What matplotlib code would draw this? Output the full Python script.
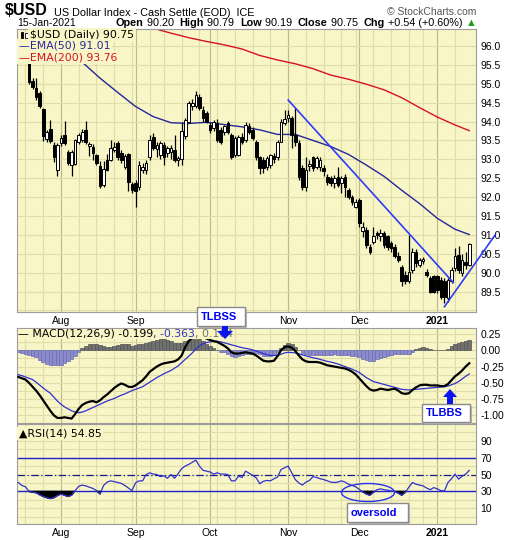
import numpy as np
import pandas as pd
import matplotlib
matplotlib.use("Agg")
import matplotlib.pyplot as plt
from matplotlib.patches import Rectangle, Ellipse, Polygon

plt.rcParams['font.family'] = ['Liberation Sans', 'DejaVu Sans']
plt.rcParams['axes.unicode_minus'] = False

# ---------------- data ----------------
holidays = ['2020-09-07', '2020-11-26', '2020-12-25', '2021-01-01']
sessions = pd.bdate_range('2020-07-16', '2021-01-15')
sessions = sessions[~sessions.isin(pd.to_datetime(holidays))]
lead = 3  # sessions shown only by the indicator panels

bar_open = [95.54, 95.08, 94.90, 94.75, 94.33, 93.55, 93.80, 93.38, 92.72, 93.43,
            93.65, 93.20, 92.85, 92.88, 93.47, 93.50, 93.78, 93.35, 93.34, 93.12,
            92.83, 92.32, 92.98, 92.98, 93.25, 93.43, 93.16, 92.80, 93.13, 92.35,
            92.37, 92.28, 92.72, 92.72, 93.07, 93.60, 93.27, 93.12, 93.38, 93.16,
            93.20, 93.25, 92.98, 93.00, 93.62, 94.00, 94.40, 94.40, 94.66, 94.31,
            94.22, 93.91, 93.82, 93.95, 93.78, 93.73, 93.95, 93.65, 93.12, 93.12,
            93.60, 93.51, 93.87, 93.78, 93.45, 93.07, 92.98, 92.81, 92.85, 93.10,
            93.05, 93.47, 93.95, 94.09, 94.09, 93.65, 93.43, 92.76, 92.28, 92.82,
            93.05, 92.81, 92.80, 92.76, 92.54, 92.50, 92.37, 92.54, 92.37, 92.54,
            92.19, 92.01, 91.75, 91.93, 91.10, 91.13, 90.69, 90.80, 91.04, 90.96,
            91.04, 90.96, 90.78, 90.69, 90.43, 90.16, 89.95, 89.77, 90.07, 90.56,
            90.20, 90.30, 90.03, 89.85, 89.90, 89.90, 89.81, 89.77, 89.32, 89.77,
            90.12, 90.47, 89.99, 90.28, 90.20]
bar_high = [95.60, 95.15, 95.15, 94.80, 94.36, 93.78, 94.04, 93.45, 93.42, 93.65,
            94.02, 93.25, 93.25, 93.55, 93.70, 93.80, 94.02, 93.45, 93.40, 93.15,
            92.95, 92.95, 93.15, 93.51, 93.45, 93.48, 93.25, 93.15, 93.18, 92.40,
            92.45, 92.95, 92.90, 92.98, 93.65, 93.70, 93.45, 93.48, 93.45, 93.35,
            93.38, 93.65, 93.10, 93.98, 94.10, 94.55, 94.60, 94.80, 94.74, 94.40,
            94.28, 93.98, 94.05, 94.08, 93.85, 93.92, 94.02, 93.70, 93.62, 93.65,
            93.70, 93.98, 93.95, 93.85, 93.50, 93.10, 93.07, 93.08, 93.15, 93.18,
            93.52, 94.08, 94.30, 94.30, 94.15, 94.35, 93.50, 92.85, 93.07, 92.98,
            93.10, 93.10, 93.05, 92.85, 92.60, 92.55, 92.58, 92.80, 92.55, 92.60,
            92.25, 92.05, 91.95, 91.98, 91.35, 91.22, 90.75, 91.22, 91.10, 91.15,
            91.10, 91.00, 90.85, 90.75, 90.55, 90.20, 90.05, 91.00, 90.65, 90.62,
            90.40, 90.42, 90.10, 89.90, 89.95, 89.95, 89.88, 89.85, 89.85, 90.15,
            90.65, 90.72, 90.50, 90.55, 90.79]
bar_low = [95.00, 94.85, 94.58, 94.35, 93.48, 93.45, 93.42, 92.94, 92.55, 93.35,
           93.38, 92.85, 92.55, 92.85, 93.40, 93.45, 93.40, 93.10, 92.98, 92.85,
           92.25, 92.28, 92.68, 92.95, 93.20, 92.98, 92.90, 92.75, 92.15, 92.10,
           91.75, 92.20, 92.65, 92.60, 92.98, 93.25, 93.05, 93.02, 92.85, 93.05,
           93.00, 92.92, 92.83, 92.85, 93.55, 93.95, 94.30, 94.35, 94.30, 94.00,
           93.95, 93.70, 93.75, 93.45, 93.40, 93.65, 93.68, 93.00, 93.05, 93.08,
           93.40, 93.45, 93.68, 93.50, 92.98, 92.60, 92.65, 92.72, 92.78, 92.90,
           92.98, 93.45, 93.90, 94.00, 93.30, 93.35, 92.45, 92.20, 92.15, 92.70,
           92.70, 92.75, 92.70, 92.55, 92.33, 92.30, 92.25, 92.28, 92.10, 92.00,
           91.95, 91.80, 91.70, 91.20, 90.95, 90.65, 90.50, 90.75, 90.90, 90.85,
           90.65, 90.60, 90.55, 90.38, 90.28, 89.65, 89.70, 89.72, 90.00, 90.15,
           90.15, 90.22, 89.88, 89.45, 89.45, 89.45, 89.30, 89.20, 89.22, 89.72,
           90.05, 90.00, 89.90, 90.10, 90.19]
bar_close = [95.06, 94.92, 94.66, 94.40, 93.62, 93.72, 93.48, 93.05, 93.38, 93.56,
             93.43, 92.90, 93.20, 93.51, 93.65, 93.73, 93.47, 93.40, 93.16, 92.90,
             92.30, 92.75, 92.72, 93.29, 93.34, 93.07, 92.98, 93.10, 92.41, 92.20,
             92.15, 92.85, 92.81, 92.90, 93.51, 93.30, 93.38, 93.43, 93.07, 93.29,
             93.30, 92.98, 93.03, 93.74, 94.04, 94.48, 94.48, 94.70, 94.35, 94.09,
             94.00, 93.78, 94.00, 93.51, 93.47, 93.87, 93.73, 93.07, 93.56, 93.58,
             93.47, 93.91, 93.73, 93.56, 93.07, 92.76, 92.76, 93.03, 93.12, 93.00,
             93.47, 94.00, 94.08, 94.17, 93.65, 93.47, 92.54, 92.26, 92.72, 92.88,
             92.76, 93.03, 92.98, 92.68, 92.41, 92.37, 92.50, 92.33, 92.50, 92.28,
             92.01, 91.88, 91.88, 91.31, 91.20, 90.74, 90.56, 90.96, 90.99, 91.04,
             90.74, 90.69, 90.65, 90.43, 90.34, 89.77, 89.77, 90.03, 90.56, 90.25,
             90.34, 90.36, 89.95, 89.50, 89.50, 89.55, 89.37, 89.37, 89.81, 90.07,
             90.43, 90.07, 90.34, 90.21, 90.75]

ema50_bar = [-3, 0, 5, 10, 15, 20, 25, 30, 35, 40, 45, 50, 55, 60, 65, 70, 75,
             80, 85, 90, 95, 100, 105, 110, 115, 120, 124]
ema50_val = [97.20, 96.85, 96.35, 95.95, 95.57, 95.15, 94.77, 94.40, 94.13, 93.97,
             93.95, 93.98, 93.92, 93.86, 93.78, 93.66, 93.66, 93.50, 93.34, 93.13,
             92.85, 92.55, 92.18, 91.83, 91.44, 91.15, 91.01]
ema200_bar = [25, 30, 35, 40, 45, 50, 55, 60, 65, 70, 75, 80, 85, 90, 95, 100,
              105, 110, 115, 120, 124]
ema200_val = [96.78, 96.63, 96.47, 96.34, 96.22, 96.12, 96.03, 95.92, 95.75, 95.63,
              95.53, 95.40, 95.23, 95.12, 94.99, 94.84, 94.63, 94.37, 94.12, 93.91,
              93.76]

trend_down_bar = [73, 119.5]
trend_down_val = [94.57, 89.74]
trend_up_bar = [117, 131.3]
trend_up_val = [89.10, 91.00]

macd_line = [-0.41, -0.43, -0.45,
             -0.50, -0.56, -0.62, -0.69, -0.77, -0.85, -0.93, -1.00, -1.04, -1.04,
             -1.03, -1.04, -1.05, -0.98, -0.90, -0.84, -0.81, -0.79, -0.78, -0.80,
             -0.77, -0.72, -0.68, -0.63, -0.58, -0.54, -0.51, -0.53, -0.56, -0.565,
             -0.54, -0.50, -0.46, -0.40, -0.33, -0.29, -0.25, -0.22, -0.20, -0.19,
             -0.18, -0.17, -0.14, -0.08, 0.05, 0.14, 0.20, 0.23, 0.23, 0.21,
             0.18, 0.16, 0.14, 0.13, 0.10, 0.07, 0.03, -0.03, -0.05, -0.05,
             -0.04, -0.03, -0.04, -0.05, -0.08, -0.12, -0.16, -0.17, -0.17, -0.16,
             -0.09, 0.00, 0.05, 0.06, 0.04, -0.01, -0.08, -0.14, -0.17, -0.18,
             -0.18, -0.18, -0.19, -0.21, -0.23, -0.24, -0.25, -0.26, -0.27, -0.28,
             -0.30, -0.33, -0.37, -0.43, -0.49, -0.55, -0.60, -0.62, -0.61, -0.59,
             -0.60, -0.61, -0.60, -0.59, -0.62, -0.66, -0.67, -0.66, -0.61, -0.57,
             -0.54, -0.53, -0.53, -0.54, -0.54, -0.54, -0.55, -0.55, -0.52, -0.46,
             -0.40, -0.36, -0.31, -0.25, -0.199]
macd_signal = [-0.375, -0.39, -0.41,
               -0.43, -0.45, -0.49, -0.535, -0.58, -0.62, -0.66, -0.72, -0.78, -0.83,
               -0.87, -0.90, -0.93, -0.95, -0.96, -0.95, -0.93, -0.905, -0.88, -0.855,
               -0.83, -0.805, -0.78, -0.76, -0.74, -0.715, -0.69, -0.67, -0.645, -0.62,
               -0.60, -0.58, -0.56, -0.525, -0.49, -0.455, -0.42, -0.39, -0.36, -0.335,
               -0.31, -0.275, -0.24, -0.19, -0.14, -0.09, -0.04, 0.02, 0.07, 0.10,
               0.12, 0.13, 0.14, 0.135, 0.13, 0.115, 0.10, 0.085, 0.07, 0.055,
               0.04, 0.03, 0.02, 0.005, -0.01, -0.03, -0.05, -0.065, -0.08, -0.08,
               -0.08, -0.06, -0.04, -0.03, -0.035, -0.04, -0.055, -0.07, -0.085, -0.10,
               -0.115, -0.125, -0.14, -0.155, -0.17, -0.18, -0.195, -0.21, -0.23, -0.25,
               -0.27, -0.29, -0.315, -0.34, -0.38, -0.42, -0.45, -0.48, -0.495, -0.51,
               -0.525, -0.54, -0.555, -0.57, -0.585, -0.60, -0.605, -0.61, -0.605, -0.60,
               -0.595, -0.59, -0.585, -0.58, -0.575, -0.57, -0.565, -0.56, -0.55, -0.53,
               -0.51, -0.48, -0.44, -0.40, -0.363]
macd_hist = [-0.03, -0.04, -0.06,
             -0.07, -0.08, -0.10, -0.15, -0.18, -0.21, -0.23, -0.23, -0.23, -0.22,
             -0.19, -0.17, -0.13, -0.08, -0.02, 0.03, 0.07, 0.09, 0.09, 0.09,
             0.08, 0.06, 0.05, 0.05, 0.06, 0.08, 0.09, 0.10, 0.09, 0.07,
             0.08, 0.09, 0.10, 0.12, 0.13, 0.15, 0.16, 0.17, 0.17, 0.16,
             0.14, 0.12, 0.11, 0.12, 0.14, 0.16, 0.18, 0.18, 0.17, 0.14,
             0.10, 0.06, 0.03, 0.00, -0.02, -0.03, -0.05, -0.08, -0.10, -0.09,
             -0.07, -0.06, -0.06, -0.05, -0.04, -0.06, -0.08, -0.08, -0.08, -0.07,
             -0.03, 0.03, 0.08, 0.12, 0.10, 0.05, 0.00, -0.04, -0.06, -0.07,
             -0.07, -0.07, -0.07, -0.07, -0.07, -0.07, -0.06, -0.07, -0.07, -0.07,
             -0.07, -0.08, -0.09, -0.11, -0.13, -0.15, -0.17, -0.17, -0.14, -0.12,
             -0.10, -0.08, -0.07, -0.06, -0.06, -0.06, -0.05, -0.05, -0.02, 0.02,
             0.04, 0.05, 0.04, 0.02, 0.01, 0.01, 0.00, 0.01, 0.02, 0.07,
             0.10, 0.12, 0.13, 0.15, 0.164]
rsi14 = [40.5, 37, 35.5,
         30, 29, 28.5, 26, 24, 22.5, 21.5, 22.5, 25, 27,
         25.5, 24, 25.5, 31, 36, 37.5, 36.5, 35, 33.5, 31,
         27, 37, 41, 42.5, 41.5, 40.5, 39.5, 37, 34, 31,
         40, 42.5, 42.5, 50, 52, 50.5, 50, 47.5, 48.5, 45.5,
         50, 45.5, 51, 57, 60, 62, 64.5, 67, 60, 55,
         54, 53, 50.5, 52, 50.5, 50.5, 50, 42.5, 42.5, 48,
         46.5, 54, 51.5, 49, 46, 39, 42, 43, 42.5, 45,
         47, 56, 58, 60, 52, 44, 40, 37.5, 41, 43,
         47.5, 46.5, 45, 44, 42.5, 41, 40.5, 41, 42.5, 41,
         38.5, 37, 35.5, 32.5, 29.5, 27, 25.5, 29, 32, 33,
         32, 31.5, 30.5, 30, 28, 25.5, 29, 35, 40.5, 38.5,
         37.5, 36.5, 34, 32, 34.5, 33, 31, 30.5, 40.5, 45,
         50.5, 44.5, 48, 50.5, 54.85]

month_names = ['Aug', 'Sep', 'Oct', 'Nov', 'Dec', '2021']
price_ticks = [89.5, 90.0, 90.5, 91.0, 91.5, 92.0, 92.5, 93.0, 93.5, 94.0, 94.5,
               95.0, 95.5, 96.0]
macd_ticks = [0.25, 0.0, -0.25, -0.5, -0.75, -1.0]
rsi_ticks = [10, 30, 50, 70, 90]

# ---------------- layout ----------------
W, H = 520, 540
BG = '#F8F6C6'
GRID = '#DFDDA8'
GRID_M = '#BCBA8A'
NAVY = '#26269A'
BLUE = '#3030D0'
TL_BLUE = '#2F3CF5'

fig = plt.figure(figsize=(W / 100, H / 100), dpi=100)
fig.patch.set_facecolor('white')


def rect(x0, y0, x1, y1):
    return [x0 / W, 1 - y1 / H, (x1 - x0) / W, (y1 - y0) / H]


ax_p = fig.add_axes(rect(17, 29, 476, 312))
ax_m = fig.add_axes(rect(17, 328, 476, 423))
ax_r = fig.add_axes(rect(17, 424, 476, 524))

mon = sessions.to_period('M')
month_pos = [k for k in range(1, len(sessions)) if mon[k] != mon[k - 1]]
wk = sessions.to_period('W')
week_pos = [k for k in range(1, len(sessions)) if wk[k] != wk[k - 1]]

for ax in (ax_p, ax_m, ax_r):
    ax.set_facecolor(BG)
    ax.set_xlim(-0.38, 128.9)
    for s in ax.spines.values():
        s.set_color('#9C9C9C')
        s.set_linewidth(0.8)
    for p in week_pos:
        ax.axvline(p, color=GRID, lw=0.8, zorder=0)
    for p in month_pos:
        ax.axvline(p, color=GRID_M, lw=0.8, zorder=0)
    ax.yaxis.tick_right()
    ax.tick_params(axis='both', length=0, labelsize=7.5, pad=3)
    ax.set_xticks(month_pos)

# the signal label box sits over the October date of the upper strip
upper_names = ['' if m == 'Oct' else m for m in month_names]
ax_p.set_xticklabels(upper_names)
ax_r.set_xticklabels(month_names)
for ax in (ax_p, ax_r):
    for lab in ax.get_xticklabels():
        if lab.get_text() == '2021':
            lab.set_fontweight('bold')
ax_m.set_xticklabels([])

# ---- price panel ----
n_bars = len(bar_close)
xb = np.arange(n_bars) + lead
o = np.array(bar_open)
c = np.array(bar_close)
hi = np.array(bar_high)
lo = np.array(bar_low)

ax_p.set_ylim(88.96, 96.45)
for v in np.arange(89.0, 96.51, 0.5):
    ax_p.axhline(v, color=GRID, lw=0.8, zorder=0)
ax_p.set_yticks(price_ticks)
ax_p.set_yticklabels([f'{v:.1f}' for v in price_ticks])

ax_p.vlines(xb, lo, hi, color='black', lw=0.9, zorder=3)
body_face = np.where(c < o, 'black', 'white')
ax_p.bar(xb, np.maximum(np.abs(c - o), 0.02), bottom=np.minimum(o, c), width=0.74,
         color=body_face, edgecolor='black', linewidth=0.7, zorder=4)

ax_p.plot(np.array(ema50_bar) + lead, ema50_val, color=NAVY, lw=1.0, zorder=2)
ax_p.plot(np.array(ema200_bar) + lead, ema200_val, color='#D8102C', lw=1.0, zorder=2)
ax_p.plot(np.array(trend_down_bar) + lead, trend_down_val, color=TL_BLUE, lw=1.2, zorder=5)
ax_p.plot(np.array(trend_up_bar) + lead, trend_up_val, color=TL_BLUE, lw=1.2, zorder=5,
          clip_on=False)

# ---- MACD panel ----
xi = np.arange(len(rsi14))
hist = np.array(macd_hist)
ax_m.set_ylim(-1.118, 0.343)
for v in np.arange(-1.125, 0.34, 0.125):
    ax_m.axhline(v, color=GRID, lw=0.8, zorder=0)
ax_m.set_yticks(macd_ticks)
ax_m.set_yticklabels([f'{v:.2f}' for v in macd_ticks])
ax_m.bar(xi, hist, width=1.0, color=np.where(hist >= 0, '#707070', '#8C8CCC'),
         edgecolor=np.where(hist >= 0, '#555555', '#6C6CB4'), linewidth=0.5, zorder=2)
ax_m.plot(xi, macd_signal, color=BLUE, lw=0.9, zorder=3)
ax_m.plot(xi, macd_line, color='black', lw=1.6, zorder=4)

# ---- RSI panel ----
rsi = np.array(rsi14)
ax_r.set_ylim(-8.6, 109.8)
for v in range(0, 101, 10):
    ax_r.axhline(v, color=GRID, lw=0.8, zorder=0)
ax_r.set_yticks(rsi_ticks)
ax_r.axhline(70, color='#2222CC', lw=1.0, zorder=2)
ax_r.axhline(30, color='#2222CC', lw=1.0, zorder=2)
ax_r.axhline(50, color='#1A1A8A', lw=0.9, ls=(0, (6, 2, 1, 2)), zorder=2)
ax_r.fill_between(xi, rsi, 30, where=rsi < 30, interpolate=True, color='black', zorder=3)
ax_r.plot(xi, rsi, color=BLUE, lw=0.9, zorder=4)

# ---------------- text and annotations (pixel overlay) ----------------
ov = fig.add_axes([0, 0, 1, 1], zorder=10)
ov.set_xlim(0, W)
ov.set_ylim(H, 0)
ov.axis('off')
ov.patch.set_alpha(0)


def chain(parts, x, y, size, family='Liberation Sans', bbox=None):
    t = ov.text(x, y, parts[0][0], fontsize=size, fontweight=parts[0][1],
                color=parts[0][2], va='bottom', ha='left', family=family, bbox=bbox)
    for s, w, col in parts[1:]:
        t = ov.annotate(s, xy=(1, 0), xycoords=t, va='bottom', ha='left',
                        fontsize=size, fontweight=w, color=col, family=family,
                        bbox=bbox)
    return t


chain([('$USD', 'bold', 'black')], 5, 18, 11.5)
ov.text(54, 16, 'US Dollar Index - Cash Settle (EOD)  ICE', fontsize=7.8,
        va='baseline', ha='left')
ov.text(476, 15, '\u00a9 StockCharts.com', fontsize=7.5, color='#555555',
        va='baseline', ha='right')
ov.text(17, 26, '15-Jan-2021', fontsize=7.5, va='baseline', ha='left')
chain([('Open', 'bold', 'black'), (' 90.20  ', 'normal', 'black'),
       ('High', 'bold', 'black'), (' 90.79  ', 'normal', 'black'),
       ('Low', 'bold', 'black'), (' 90.19  ', 'normal', 'black'),
       ('Close', 'bold', 'black'), (' 90.75  ', 'normal', 'black'),
       ('Chg', 'bold', 'black'), (' +0.54 (+0.60%) ', 'normal', 'black'),
       ('\u25b2', 'normal', '#1E9E1E')], 116, 28.5, 7.8)

leg_box = dict(boxstyle='square,pad=0.15', fc=BG, ec='none')
leg_box_flat = dict(boxstyle='square,pad=0.0', fc=BG, ec='none')
LEG = 'DejaVu Sans'
ov.add_patch(Rectangle((20.5, 31.5), 2.5, 6, fc='black', ec='black', lw=0.6))
ov.add_patch(Rectangle((25, 33), 2.5, 5, fc='white', ec='black', lw=0.6))
ov.text(30, 35, '$USD (Daily) 90.75', fontsize=7.8, family=LEG, va='center',
        ha='left', bbox=leg_box)
ov.text(19, 46, '\u2014EMA(50) 91.01', fontsize=7.8, family=LEG, color=NAVY,
        va='center', ha='left', bbox=leg_box)
ov.text(19, 57.5, '\u2014EMA(200) 93.76', fontsize=7.8, family=LEG, color='#D8102C',
        va='center', ha='left', bbox=leg_box)

chain([('\u2014 MACD(12,26,9) -0.199', 'normal', 'black'),
       (', -0.363', 'normal', BLUE), (', 0.164', 'normal', '#707070')],
      18, 338.5, 7.8, family=LEG, bbox=leg_box_flat)
ov.text(19, 433.5, '\u25b2RSI(14) 54.85', fontsize=7.8, family=LEG, va='center',
        ha='left', bbox=leg_box)


def label_box(x0, y0, x1, y1, text):
    ov.add_patch(Rectangle((x0 + 2, y0 + 2), x1 - x0, y1 - y0, fc='#B8B8B8', ec='none',
                           zorder=6))
    ov.add_patch(Rectangle((x0, y0), x1 - x0, y1 - y0, fc='white', ec='#8A8A8A', lw=1.0,
                           zorder=6))
    ov.text(x0 + 4, (y0 + y1) / 2 + 0.5, text, fontsize=8, fontweight='bold',
            color='#0000EE', va='center', ha='left', zorder=7)


label_box(197, 307, 245, 326, 'TLBSS')
label_box(422, 404, 470, 422, 'TLBBS')
label_box(347, 503, 408, 522, 'oversold')

ov.add_patch(Polygon([(222, 326), (228, 326), (228, 331), (233, 331), (225, 339),
                      (217, 331), (222, 331)], closed=True, fc='#0A14F0', ec='none',
                     zorder=8))
ov.add_patch(Polygon([(450, 389), (457, 397), (453, 397), (453, 404), (447, 404),
                      (447, 397), (443, 397)], closed=True, fc='#0A14F0', ec='none',
                     zorder=8))
ov.add_patch(Ellipse((368, 492.5), 53, 18, fc='none', ec='#2233EE', lw=1.0, zorder=8))

fig.savefig('out.png', dpi=100, facecolor='white')
